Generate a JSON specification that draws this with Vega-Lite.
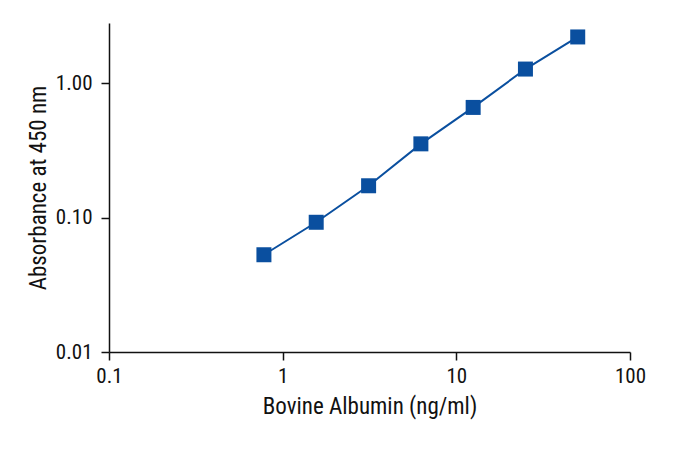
{
  "$schema": "https://vega.github.io/schema/vega-lite/v6.json",
  "autosize": "none",
  "padding": {"left": 109, "top": 23, "right": 68, "bottom": 96},
  "width": 521,
  "height": 329,
  "background": "white",
  "config": {
    "view": {"stroke": null},
    "font": "Roboto Condensed, DejaVu Sans Condensed, Liberation Sans, sans-serif",
    "axis": {
      "labelFont": "Roboto Condensed, DejaVu Sans Condensed, Liberation Sans, sans-serif",
      "titleFont": "Roboto Condensed, DejaVu Sans Condensed, Liberation Sans, sans-serif",
      "labelFontSize": 21,
      "titleFontSize": 23,
      "titleFontWeight": "normal",
      "labelColor": "#111",
      "titleColor": "#111",
      "domainColor": "#111",
      "tickColor": "#111",
      "domainWidth": 1.5,
      "tickWidth": 1.5,
      "tickSize": 8,
      "grid": false
    }
  },
  "data": {
    "values": [
      {"conc": 0.78, "abs": 0.053},
      {"conc": 1.56, "abs": 0.0925},
      {"conc": 3.125, "abs": 0.173},
      {"conc": 6.25, "abs": 0.355},
      {"conc": 12.5, "abs": 0.663},
      {"conc": 25, "abs": 1.28},
      {"conc": 50, "abs": 2.22}
    ]
  },
  "encoding": {
    "x": {
      "field": "conc",
      "type": "quantitative",
      "scale": {"type": "log", "domain": [0.1, 100], "nice": false},
      "axis": {"values": [0.1, 1, 10, 100], "format": "~g", "title": "Bovine Albumin (ng/ml)", "labelPadding": 5, "titlePadding": 9, "labelFlush": false}
    },
    "y": {
      "field": "abs",
      "type": "quantitative",
      "scale": {"type": "log", "domain": [0.01, 2.82], "nice": false},
      "axis": {"values": [0.01, 0.1, 1], "format": ".2f", "title": "Absorbance at 450 nm", "labelPadding": 9, "titlePadding": 5, "labelFlush": false}
    }
  },
  "layer": [
    {"mark": {"type": "line", "color": "#0a4f9f", "strokeWidth": 2}},
    {"mark": {"type": "point", "shape": "square", "filled": true, "opacity": 1, "color": "#0a4f9f", "size": 225}}
  ]
}
